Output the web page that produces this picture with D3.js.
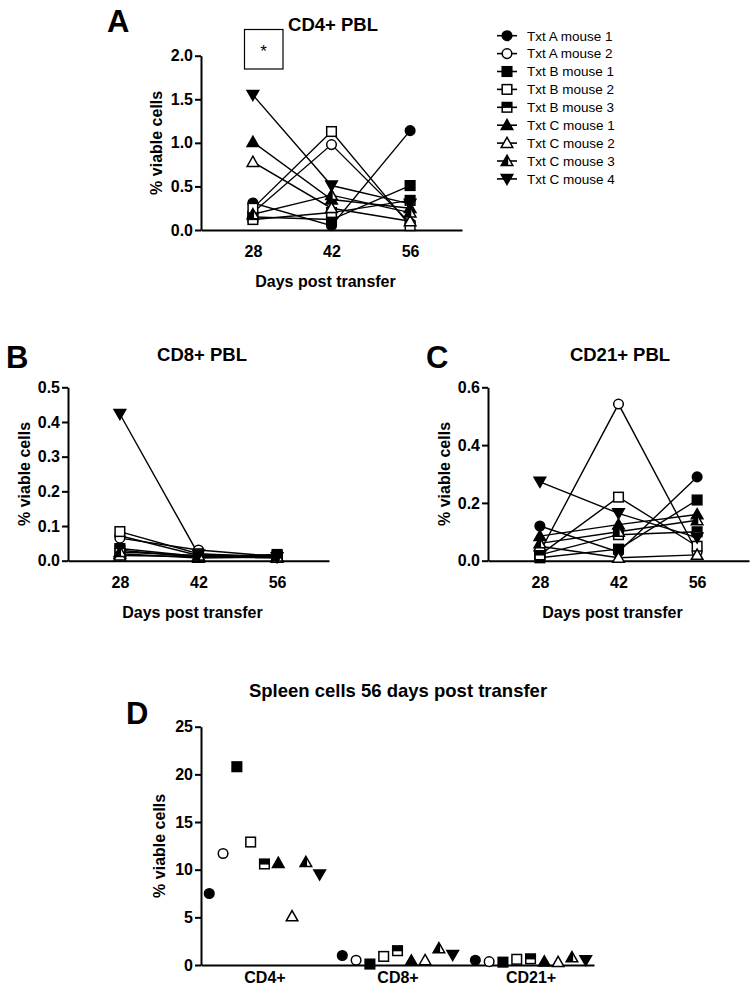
<!DOCTYPE html>
<html>
<head>
<meta charset="utf-8">
<script src="https://cdn.jsdelivr.net/npm/d3@7/dist/d3.min.js"></script>
<style>
  body { margin: 0; background: #fff; }
  svg { display: block; }
  text { font-family: "Liberation Sans", Arial, sans-serif; fill: #000; }
</style>
</head>
<body>
<svg id="chart" width="756" height="991"></svg>
<script>
// ---------------- DATA ----------------
const days = [28, 42, 56];
const seriesNames = ["Txt A mouse 1", "Txt A mouse 2", "Txt B mouse 1", "Txt B mouse 2", "Txt B mouse 3",
                     "Txt C mouse 1", "Txt C mouse 2", "Txt C mouse 3", "Txt C mouse 4"];
const seriesMarkers = ["circleFilled", "circleOpen", "squareFilled", "squareOpen", "squareHalf",
                       "triFilled", "triOpen", "triHalf", "triDown"];

// CD4+ PBL (% viable cells) per series at days 28, 42, 56
const cd4PBL = [
  [0.31, 0.05, 1.14],
  [0.20, 0.98, 0.08],
  [0.15, 0.12, 0.51],
  [0.25, 1.13, 0.05],
  [0.12, 0.20, 0.34],
  [1.01, 0.35, 0.25],
  [0.78, 0.25, 0.10],
  [0.18, 0.40, 0.20],
  [1.55, 0.51, 0.30]
];
// CD8+ PBL
const cd8PBL = [
  [0.072, 0.015, 0.015],
  [0.065, 0.031, 0.012],
  [0.030, 0.010, 0.018],
  [0.084, 0.020, 0.010],
  [0.035, 0.012, 0.015],
  [0.020, 0.008, 0.010],
  [0.015, 0.012, 0.008],
  [0.025, 0.015, 0.012],
  [0.423, 0.018, 0.010]
];
// CD21+ PBL
const cd21PBL = [
  [0.12, 0.03, 0.29],
  [0.03, 0.542, 0.03],
  [0.01, 0.04, 0.21],
  [0.02, 0.22, 0.05],
  [0.02, 0.09, 0.10],
  [0.085, 0.125, 0.16],
  [0.05, 0.01, 0.02],
  [0.06, 0.10, 0.14],
  [0.273, 0.164, 0.08]
];
// Spleen cells 56 days post transfer
const spleenCategories = ["CD4+", "CD8+", "CD21+"];
const spleenCD4 = [7.5, 11.7, 20.8, 12.9, 10.6, 10.7, 5.1, 10.8, 9.5];
const spleenCD8 = [1.0, 0.5, 0.1, 0.9, 1.5, 0.45, 0.5, 1.75, 1.05];
const spleenCD21 = [0.5, 0.35, 0.3, 0.6, 0.65, 0.35, 0.3, 0.8, 0.5];

const ticksA = [0, 0.5, 1.0, 1.5, 2.0];
const ticksB = [0, 0.1, 0.2, 0.3, 0.4, 0.5];
const ticksC = [0, 0.2, 0.4, 0.6];
const ticksD = [0, 5, 10, 15, 20, 25];

// ---------------- DRAWING ----------------
const svg = d3.select("#chart");
svg.append("rect").attr("width", 756).attr("height", 991).attr("fill", "#fff");

function drawMarker(g, type, cx, cy, s) {
  s = s || 1;
  const m = g.append("g").attr("transform", `translate(${cx},${cy}) scale(${s})`);
  const sw = 1.5 / s;
  if (type === "circleFilled" || type === "circleOpen") {
    m.append("circle").attr("r", 4.8)
      .attr("fill", type === "circleFilled" ? "#000" : "#fff")
      .attr("stroke", "#000").attr("stroke-width", sw);
  } else if (type.startsWith("square")) {
    m.append("rect").attr("x", -4.8).attr("y", -4.8).attr("width", 9.6).attr("height", 9.6)
      .attr("fill", type === "squareFilled" ? "#000" : "#fff")
      .attr("stroke", "#000").attr("stroke-width", sw);
    if (type === "squareHalf") {
      m.append("rect").attr("x", -4.8).attr("y", -4.8).attr("width", 9.6).attr("height", 5.4)
        .attr("fill", "#000");
    }
  } else if (type === "triDown") {
    m.append("path").attr("d", "M0,5.5 L5.8,-4.5 L-5.8,-4.5 Z")
      .attr("fill", "#000").attr("stroke", "#000").attr("stroke-width", sw).attr("stroke-linejoin", "miter");
  } else {
    m.append("path").attr("d", "M0,-5.8 L5.8,4.4 L-5.8,4.4 Z")
      .attr("fill", type === "triFilled" ? "#000" : "#fff")
      .attr("stroke", "#000").attr("stroke-width", sw).attr("stroke-linejoin", "miter");
    if (type === "triHalf") {
      m.append("path").attr("d", "M0,-5.8 L1.2,-3.6 L1.2,4.4 L-5.8,4.4 Z").attr("fill", "#000");
    }
  }
}

function styleAxis(g) {
  g.selectAll("path.domain").attr("stroke", "#000").attr("stroke-width", 2);
  g.selectAll(".tick line").attr("stroke", "#000").attr("stroke-width", 2);
  g.selectAll("text").attr("font-size", 16).attr("font-weight", "bold").attr("fill", "#000");
}

function linePanel(opts) {
  const { data, yMax, ticks, fmt, left, right, top, bottom, title, titleX, titleY,
          letter, letterX, letterY, ylabX } = opts;
  const g = svg.append("g");
  const x = d3.scalePoint().domain(days).range([left, right]).padding(0.66);
  const y = d3.scaleLinear().domain([0, yMax]).range([bottom, top]);

  // axes
  const ya = g.append("g").attr("transform", `translate(${left},0)`)
    .call(d3.axisLeft(y).tickValues(ticks).tickFormat(d3.format(fmt)).tickSize(6).tickSizeOuter(0).tickPadding(2));
  styleAxis(ya);
  const xa = g.append("g").attr("transform", `translate(0,${bottom})`)
    .call(d3.axisBottom(x).tickSize(0).tickSizeOuter(0).tickPadding(15.5));
  styleAxis(xa);

  // lines
  const line = d3.line().x((d, i) => x(days[i])).y(d => y(d));
  data.forEach(vals => {
    g.append("path").attr("d", line(vals)).attr("fill", "none")
      .attr("stroke", "#000").attr("stroke-width", 1.4);
  });
  // markers
  data.forEach((vals, si) => {
    vals.forEach((v, i) => drawMarker(g, seriesMarkers[si], x(days[i]), y(v)));
  });

  // texts
  g.append("text").attr("x", titleX).attr("y", titleY).attr("text-anchor", "middle")
    .attr("font-size", 18.5).attr("font-weight", "bold").text(title);
  g.append("text").attr("x", letterX).attr("y", letterY)
    .attr("font-size", 31).attr("font-weight", "bold").text(letter);
  g.append("text").attr("x", (x(days[0]) + x(days[2])) / 2 - 6).attr("y", bottom + 57)
    .attr("text-anchor", "middle").attr("font-size", 16).attr("font-weight", "bold").text("Days post transfer");
  g.append("text").attr("transform", `translate(${ylabX},${(top + bottom) / 2}) rotate(-90)`)
    .attr("text-anchor", "middle").attr("font-size", 16).attr("font-weight", "bold").text("% viable cells");
  return { g, x, y };
}

// Panel A
const pA = linePanel({ data: cd4PBL, yMax: 2.0, ticks: ticksA, fmt: ".1f",
  left: 201, right: 462, top: 55.7, bottom: 230,
  title: "CD4+ PBL", titleX: 333, titleY: 31, letter: "A", letterX: 107, letterY: 32, ylabX: 162 });
// significance box
svg.append("rect").attr("x", 244.5).attr("y", 29.5).attr("width", 38.5).attr("height", 39.5)
  .attr("fill", "#fff").attr("stroke", "#000").attr("stroke-width", 1.2);
svg.append("text").attr("x", 263.5).attr("y", 57).attr("text-anchor", "middle")
  .attr("font-size", 17).text("*");

// Legend
const legend = svg.append("g");
seriesNames.forEach((name, i) => {
  const cy = 35.7 + i * 17.9;
  legend.append("rect").attr("x", 496).attr("y", cy - 3.8).attr("width", 21).attr("height", 24).attr("fill", "#fff");
  legend.append("line").attr("x1", 497).attr("x2", 517).attr("y1", cy).attr("y2", cy)
    .attr("stroke", "#000").attr("stroke-width", 1.6);
  drawMarker(legend, seriesMarkers[i], 507, cy, 1);
  legend.append("text").attr("x", 527).attr("y", cy).attr("dy", "0.36em")
    .attr("font-size", 13.5).text(name);
});

// Panel B
linePanel({ data: cd8PBL, yMax: 0.5, ticks: ticksB, fmt: ".1f",
  left: 68, right: 329, top: 387.3, bottom: 560.7,
  title: "CD8+ PBL", titleX: 202, titleY: 361, letter: "B", letterX: 6, letterY: 368, ylabX: 30 });

// Panel C
linePanel({ data: cd21PBL, yMax: 0.6, ticks: ticksC, fmt: ".1f",
  left: 488, right: 749, top: 387.3, bottom: 560.7,
  title: "CD21+ PBL", titleX: 620, titleY: 361, letter: "C", letterX: 426, letterY: 368, ylabX: 450 });

// Panel D
(function () {
  const left = 201, right = 594, top = 726.7, bottom = 965;
  const g = svg.append("g");
  const x = d3.scalePoint().domain(spleenCategories).range([left, right]).padding(0.477);
  const y = d3.scaleLinear().domain([0, 25]).range([bottom, top]);
  const ya = g.append("g").attr("transform", `translate(${left},0)`)
    .call(d3.axisLeft(y).tickValues(ticksD).tickFormat(d3.format("d")).tickSize(6).tickSizeOuter(0).tickPadding(2));
  styleAxis(ya);
  const xa = g.append("g").attr("transform", `translate(0,${bottom})`)
    .call(d3.axisBottom(x).tickSize(0).tickSizeOuter(0).tickPadding(6.6));
  styleAxis(xa);
  const groups = [spleenCD4, spleenCD8, spleenCD21];
  groups.forEach((vals, ci) => {
    vals.forEach((v, si) => {
      drawMarker(g, seriesMarkers[si], x(spleenCategories[ci]) + (si - 4) * 13.8, y(v), 1);
    });
  });
  g.append("text").attr("x", 398).attr("y", 697).attr("text-anchor", "middle")
    .attr("font-size", 18.5).attr("font-weight", "bold").text("Spleen cells 56 days post transfer");
  g.append("text").attr("x", 126).attr("y", 724).attr("font-size", 31).attr("font-weight", "bold").text("D");
  g.append("text").attr("transform", `translate(165,${(top + bottom) / 2}) rotate(-90)`)
    .attr("text-anchor", "middle").attr("font-size", 16).attr("font-weight", "bold").text("% viable cells");
})();
</script>
</body>
</html>
